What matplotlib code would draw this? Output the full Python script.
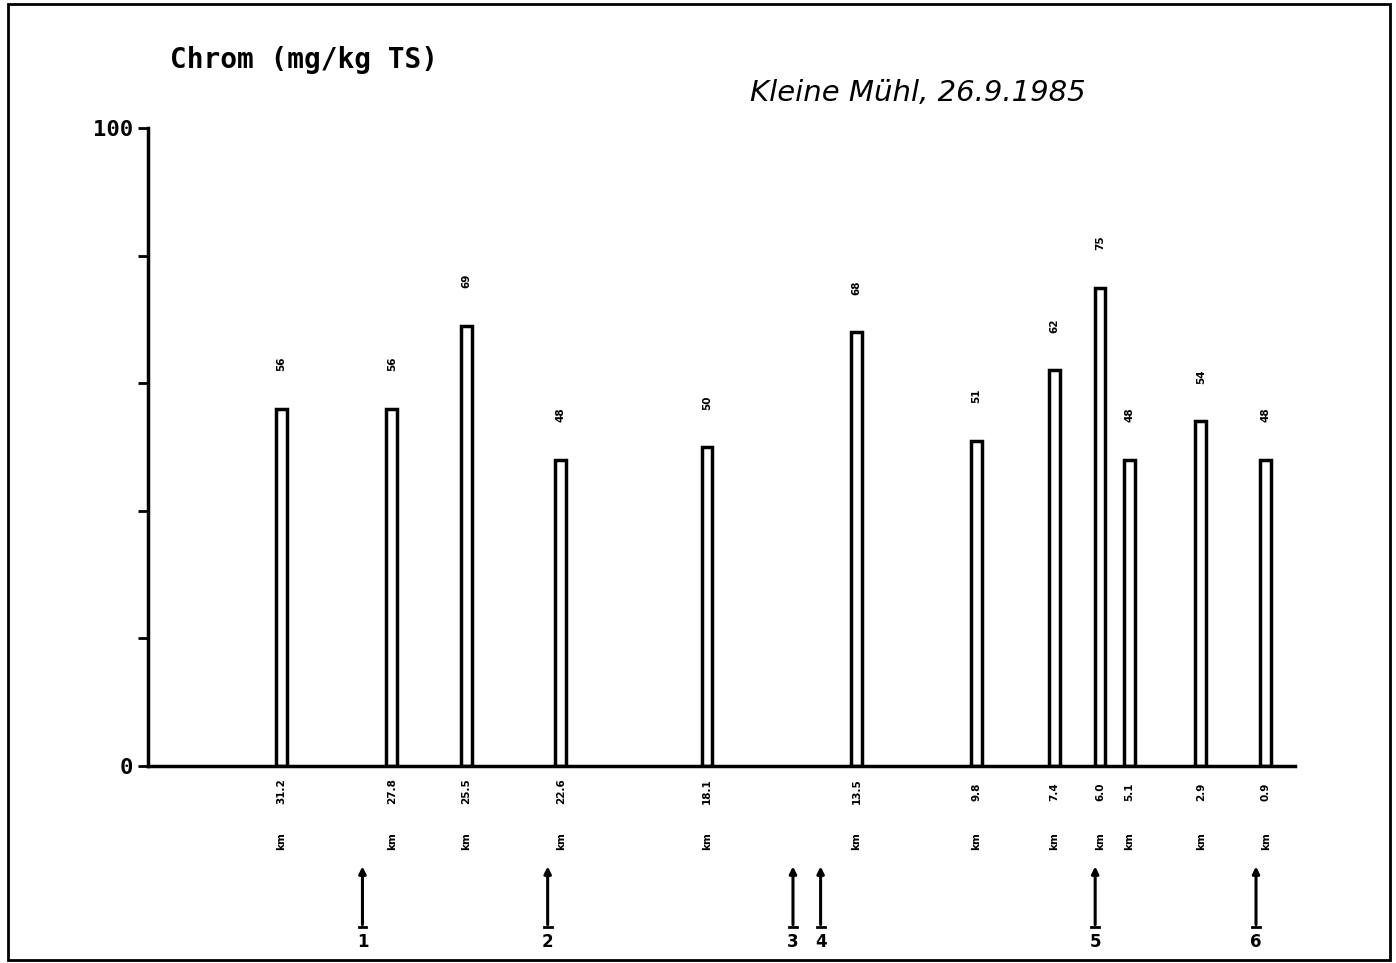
import matplotlib
matplotlib.use("Agg")
import matplotlib.pyplot as plt
from matplotlib.patches import Rectangle

# Messstellen (Flusskilometer) und Chromgehalte
km = [31.2, 27.8, 25.5, 22.6, 18.1, 13.5, 9.8, 7.4, 6.0, 5.1, 2.9, 0.9]
chrom = [56, 56, 69, 48, 50, 68, 51, 62, 75, 48, 54, 48]
km_labels = ["31.2", "27.8", "25.5", "22.6", "18.1", "13.5", "9.8", "7.4", "6.0", "5.1", "2.9", "0.9"]
wert_labels = ["56", "56", "69", "48", "50", "68", "51", "62", "75", "48", "54", "48"]

# Einleitungen / Zufluesse (Pfeile unten)
pfeil_km = [28.7, 23.0, 15.45, 14.6, 6.15, 1.2]
pfeil_labels = ["1", "2", "3", "4", "5", "6"]

fig = plt.figure(figsize=(13.96, 9.63), dpi=100)
ax = fig.add_axes([148 / 1396, 1 - 766 / 963, (1295 - 148) / 1396, (766 - 128) / 963])

ax.bar(km, chrom, width=0.33, color="white", edgecolor="black", linewidth=2.5)

ax.set_xlim(35.3, 0.0)
ax.set_ylim(0, 100)
for s in ["top", "right"]:
    ax.spines[s].set_visible(False)
ax.spines["left"].set_linewidth(2.5)
ax.spines["bottom"].set_linewidth(2.5)
ax.set_xticks([])
ax.set_yticks([0, 20, 40, 60, 80, 100])
ax.set_yticklabels(["0", "", "", "", "", "100"], fontsize=16, fontweight="bold",
                   family="DejaVu Sans Mono")
ax.tick_params(axis="y", length=7, width=2, pad=4)

# Werte ueber den Saeulen
for x, v, t in zip(km, chrom, wert_labels):
    ax.text(x, v + 7, t, rotation=90, ha="center", va="center", fontsize=7.5, fontweight="bold")

# km-Angaben unter der Achse
for x, t in zip(km, km_labels):
    ax.text(x, -4, t, rotation=90, ha="center", va="center", fontsize=7.5, fontweight="bold", clip_on=False)
    ax.text(x, -11.7, "km", rotation=90, ha="center", va="center", fontsize=7.5, fontweight="bold", clip_on=False)

# Pfeile
for x, t in zip(pfeil_km, pfeil_labels):
    ax.annotate("", xy=(x, -15.3), xytext=(x, -25.3), annotation_clip=False,
                arrowprops=dict(arrowstyle="-|>", color="black", lw=2.2, mutation_scale=10))
    ax.plot([x - 0.12, x + 0.12], [-25.3, -25.3], color="black", lw=2, clip_on=False)
    ax.text(x, -27.6, t, ha="center", va="center", fontsize=12, fontweight="bold", clip_on=False)

fig.text(170 / 1396, 1 - 60 / 963, "Chrom (mg/kg TS)", fontsize=20, fontweight="bold",
         family="DejaVu Sans Mono", ha="left", va="center")
fig.text(750 / 1396, 1 - 93 / 963, "Kleine Mühl, 26.9.1985", fontsize=21, style="italic",
         ha="left", va="center")

fig.patches.append(Rectangle((8 / 1396, 3 / 963), 1382 / 1396, 956 / 963, transform=fig.transFigure,
                             fill=False, edgecolor="black", linewidth=2))

fig.savefig("out.png", dpi=100)
